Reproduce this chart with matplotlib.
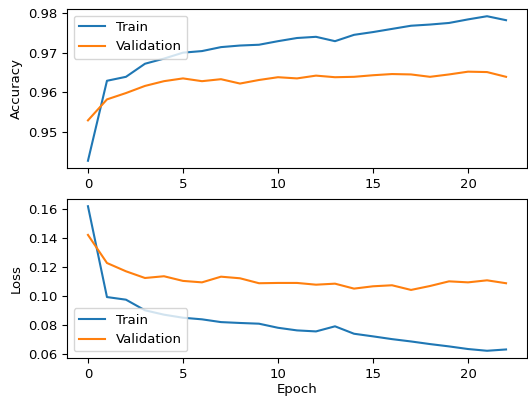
import matplotlib
matplotlib.use("Agg")
import matplotlib.pyplot as plt

epochs = list(range(23))

train_acc = [0.9427, 0.9629, 0.9639, 0.9672, 0.9685, 0.9700, 0.9704, 0.9714,
             0.9718, 0.9720, 0.9729, 0.9737, 0.9740, 0.9729, 0.9745, 0.9752,
             0.9760, 0.9768, 0.9771, 0.9775, 0.9784, 0.9792, 0.9782]
val_acc = [0.9529, 0.9582, 0.9598, 0.9616, 0.9628, 0.9635, 0.9628, 0.9633,
           0.9622, 0.9631, 0.9638, 0.9635, 0.9642, 0.9638, 0.9639, 0.9643,
           0.9646, 0.9645, 0.9639, 0.9645, 0.9652, 0.9651, 0.9639]

train_loss = [0.1618, 0.0994, 0.0976, 0.0903, 0.0873, 0.0852, 0.0841, 0.0822,
              0.0816, 0.0811, 0.0783, 0.0765, 0.0758, 0.0793, 0.0742, 0.0724,
              0.0705, 0.0689, 0.0671, 0.0655, 0.0637, 0.0625, 0.0634]
val_loss = [0.1421, 0.1228, 0.1171, 0.1125, 0.1137, 0.1105, 0.1095, 0.1134,
            0.1123, 0.1089, 0.1091, 0.1091, 0.1079, 0.1086, 0.1052, 0.1068,
            0.1075, 0.1043, 0.1070, 0.1102, 0.1095, 0.1109, 0.1089]

plt.rcParams['font.size'] = 9.5

fig = plt.figure(figsize=(5.28, 4.0), dpi=100)
ax1 = fig.add_axes([0.127, 0.58, 0.871, 0.3975])
ax2 = fig.add_axes([0.127, 0.105, 0.871, 0.3975])

ax1.plot(epochs, train_acc, label="Train")
ax1.plot(epochs, val_acc, label="Validation")
ax1.set_ylabel("Accuracy")
ax1.set_yticks([0.95, 0.96, 0.97, 0.98])
ax1.legend(loc="upper left")

ax2.plot(epochs, train_loss, label="Train")
ax2.plot(epochs, val_loss, label="Validation")
ax2.set_ylabel("Loss")
ax2.set_xlabel("Epoch", labelpad=2)
ax2.set_yticks([0.06, 0.08, 0.10, 0.12, 0.14, 0.16])
ax2.legend(loc="lower left")

fig.savefig("out.png", dpi=100)
